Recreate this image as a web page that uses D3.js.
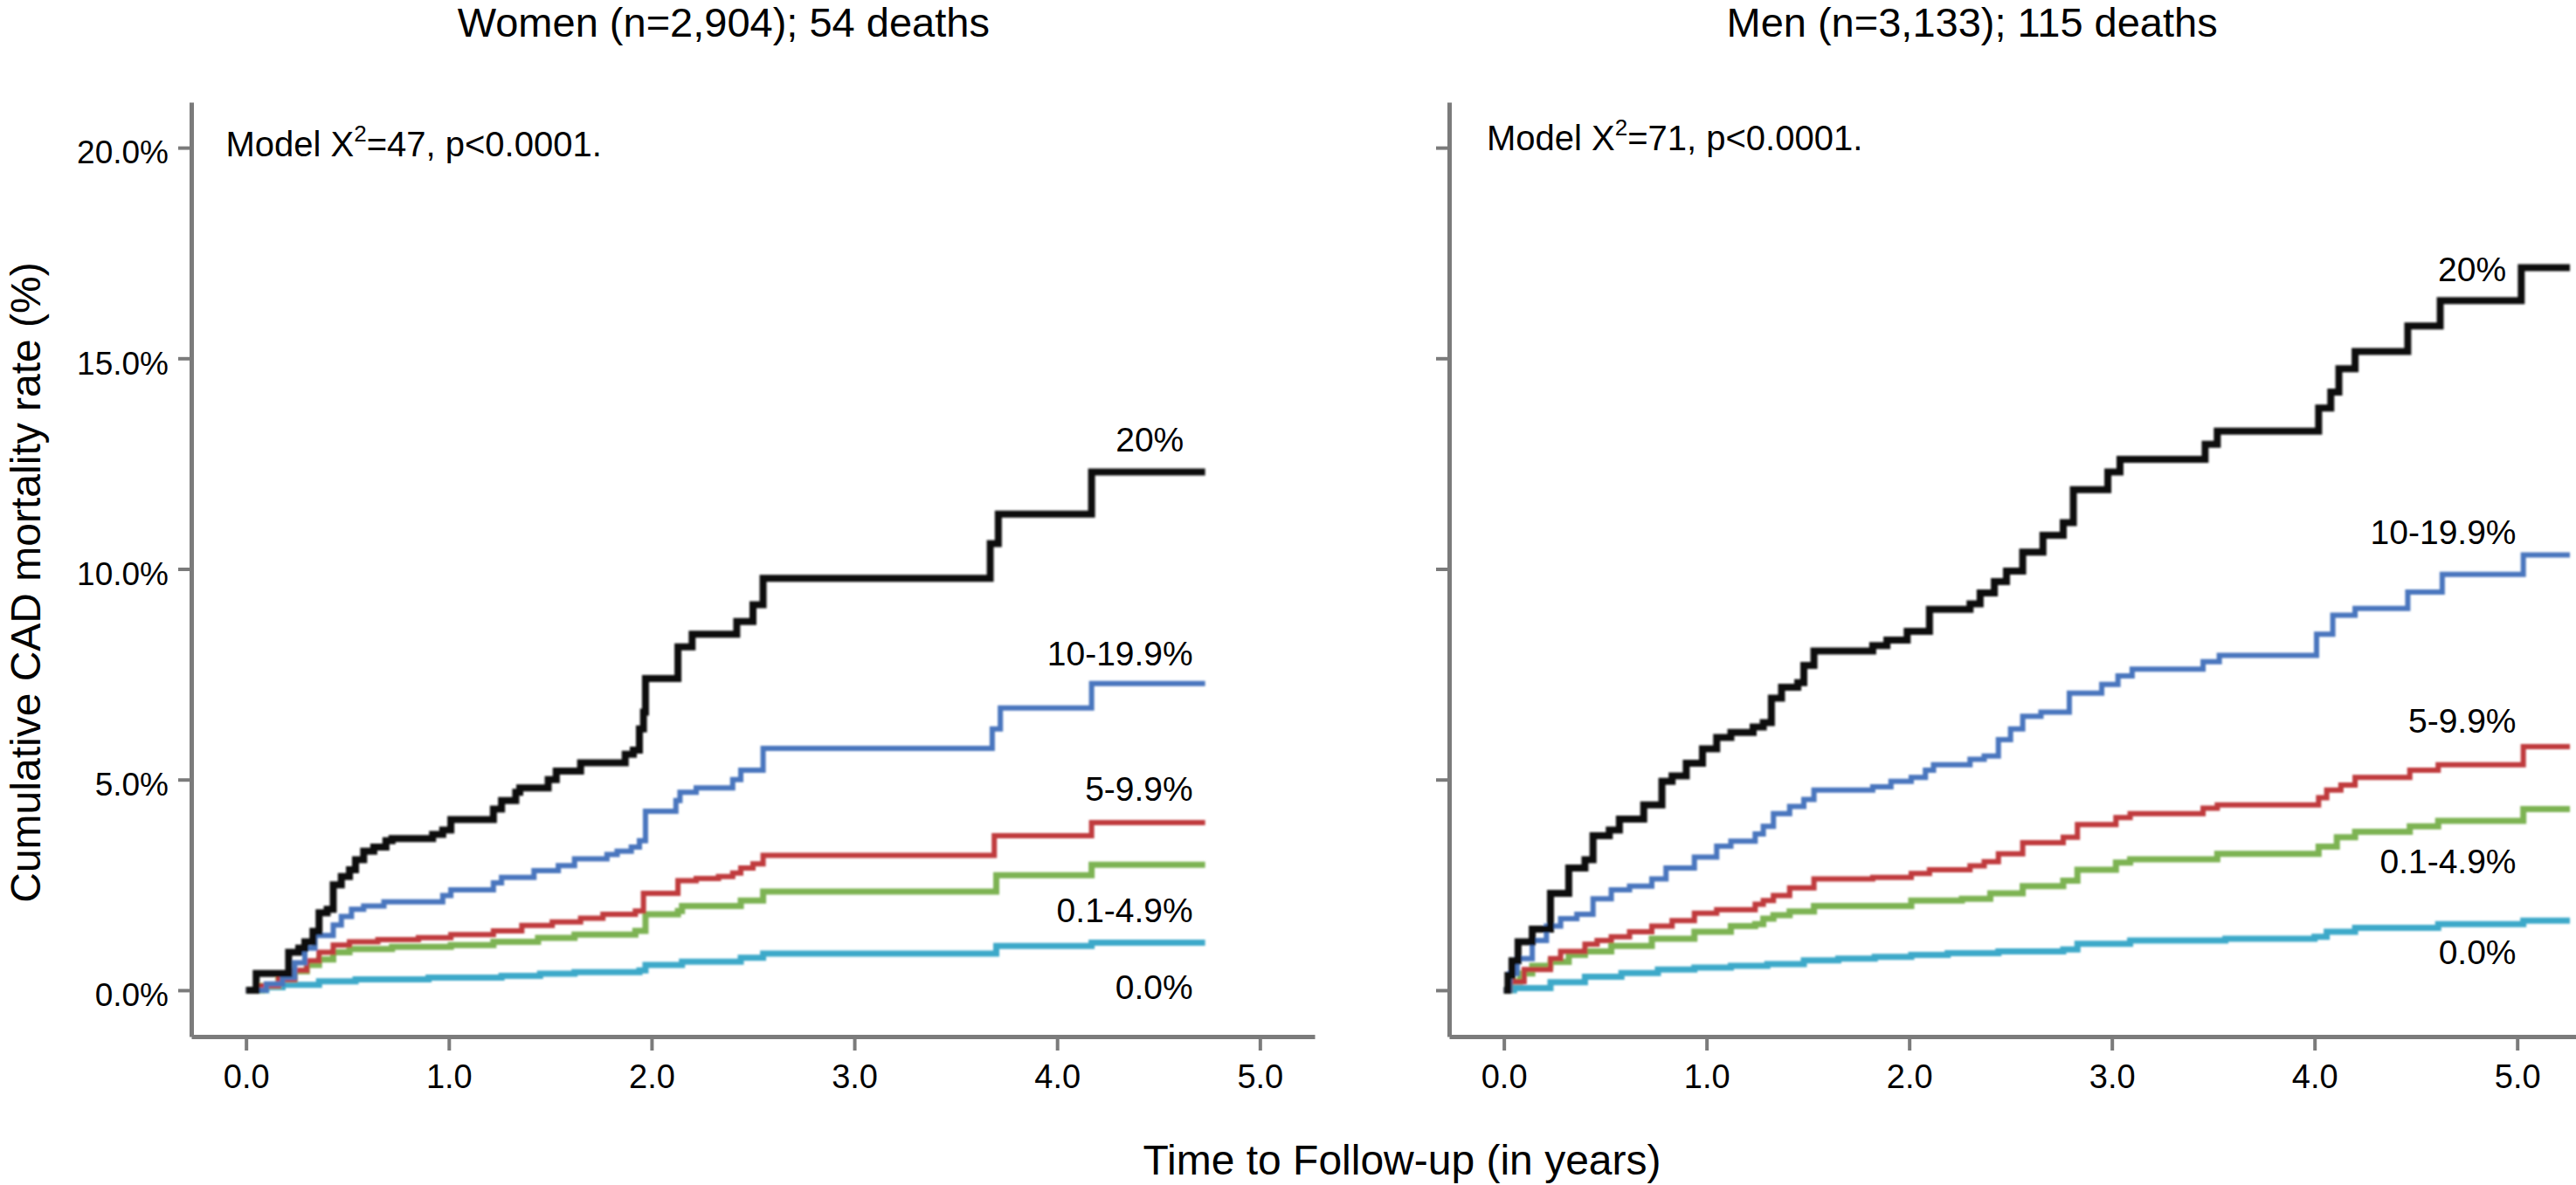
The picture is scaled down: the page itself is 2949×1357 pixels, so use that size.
<!DOCTYPE html>
<html>
<head>
<meta charset="utf-8">
<script src="https://cdn.jsdelivr.net/npm/d3@7"></script>
<style>
  body, html {
    margin: 0;
    padding: 0;
    background: #fff;
  }
  svg {
    display: block;
    font-family: "Liberation Sans", Arial, Helvetica, sans-serif;
  }
  .axis path, .axis line { stroke: #7b7b7b; }
  .axis path { stroke-width: 5; }
  .axis line { stroke-width: 4; }
  .axis text { fill: #000; }
</style>
</head>
<body>
<svg></svg>
<script>

  var groups = ['20%', '10-19.9%', '5-9.9%', '0.1-4.9%', '0.0%'];
  var colors = ['#111111', '#4a76be', '#c03a3d', '#7db353', '#3ea9c9'];
  var widths = [8, 6, 6, 7, 7];
  var xTicks = [0, 1, 2, 3, 4, 5];
  var yTicks = [0, 5, 10, 15, 20];

  // women: [years, cumulative CAD mortality %]
  var women20 = [[0,0],[0.05,0.4],[0.21,0.9],[0.26,1.0],[0.29,1.15],[0.33,1.4],[0.36,1.84],[0.40,1.92],
    [0.43,2.5],[0.47,2.7],[0.51,2.86],[0.54,3.1],[0.58,3.3],[0.63,3.4],[0.69,3.55],[0.72,3.6],[0.92,3.7],
    [0.97,3.8],[1.01,4.05],[1.22,4.3],[1.26,4.5],[1.33,4.7],[1.35,4.8],[1.49,5.0],[1.53,5.2],[1.65,5.4],
    [1.87,5.6],[1.91,5.7],[1.94,6.2],[1.96,6.6],[1.97,7.4],[2.13,8.15],[2.2,8.45],[2.42,8.75],[2.5,9.15],
    [2.55,9.78],[3.67,10.6],[3.71,11.3],[4.17,12.3],[4.73,12.3]];
  var women10 = [[0,0],[0.1,0.15],[0.18,0.3],[0.24,0.65],[0.29,1.0],[0.34,1.3],[0.43,1.55],[0.47,1.75],
    [0.52,1.92],[0.58,2.0],[0.68,2.1],[0.97,2.25],[1.01,2.38],[1.22,2.55],[1.26,2.68],[1.42,2.84],[1.54,2.96],
    [1.62,3.12],[1.78,3.22],[1.83,3.3],[1.9,3.4],[1.94,3.55],[1.97,4.25],[2.12,4.5],[2.14,4.7],[2.22,4.8],
    [2.4,5.0],[2.44,5.22],[2.55,5.74],[3.68,6.2],[3.72,6.7],[4.17,7.28],[4.73,7.28]];
  var women5 = [[0,0],[0.08,0.1],[0.16,0.25],[0.24,0.47],[0.3,0.7],[0.36,0.9],[0.43,1.07],[0.51,1.15],
    [0.65,1.2],[0.85,1.25],[1.01,1.32],[1.22,1.41],[1.36,1.54],[1.51,1.62],[1.65,1.71],[1.76,1.8],[1.92,1.88],
    [1.96,2.3],[2.13,2.6],[2.22,2.65],[2.33,2.7],[2.40,2.78],[2.44,2.9],[2.5,3.0],[2.55,3.2],[3.69,3.67],
    [4.17,3.98],[4.73,3.98]];
  var women01 = [[0,0],[0.08,0.1],[0.16,0.25],[0.24,0.45],[0.3,0.6],[0.36,0.73],[0.43,0.9],[0.51,0.98],
    [0.72,1.03],[1.01,1.07],[1.22,1.15],[1.44,1.24],[1.62,1.32],[1.92,1.41],[1.97,1.8],[2.13,1.88],[2.15,2.0],
    [2.44,2.13],[2.55,2.34],[3.7,2.73],[4.17,2.98],[4.73,2.98]];
  var women0 = [[0,0],[0.1,0.07],[0.18,0.13],[0.36,0.21],[0.54,0.26],[0.9,0.3],[1.26,0.34],[1.45,0.39],
    [1.62,0.43],[1.94,0.47],[1.97,0.6],[2.15,0.68],[2.44,0.77],[2.55,0.87],[3.7,1.05],[4.17,1.13],[4.73,1.13]];

  // men
  var men20 = [[0,0],[0.02,0.35],[0.04,0.7],[0.07,1.15],[0.14,1.45],[0.23,2.3],[0.32,2.9],[0.40,3.1],
    [0.44,3.67],[0.52,3.8],[0.57,4.06],[0.69,4.4],[0.78,4.96],[0.83,5.09],[0.90,5.39],[0.98,5.73],[1.05,6.0],
    [1.12,6.12],[1.23,6.25],[1.28,6.35],[1.32,6.93],[1.37,7.19],[1.45,7.3],[1.48,7.71],[1.53,8.05],[1.82,8.18],
    [1.89,8.31],[1.99,8.52],[2.10,9.04],[2.30,9.17],[2.35,9.43],[2.42,9.7],[2.48,9.95],[2.56,10.4],[2.66,10.8],
    [2.76,11.1],[2.81,11.88],[2.98,12.3],[3.04,12.6],[3.46,12.96],[3.52,13.27],[4.02,13.82],[4.08,14.2],
    [4.12,14.75],[4.2,15.16],[4.46,15.77],[4.62,16.37],[5.02,17.15],[5.26,17.15]];
  var men10 = [[0,0],[0.03,0.4],[0.065,0.75],[0.14,1.18],[0.21,1.52],[0.28,1.7],[0.36,1.8],[0.44,2.17],
    [0.53,2.38],[0.62,2.47],[0.73,2.64],[0.80,2.9],[0.94,3.16],[1.05,3.42],[1.12,3.54],[1.24,3.71],[1.28,3.89],
    [1.33,4.19],[1.41,4.36],[1.48,4.53],[1.53,4.75],[1.82,4.83],[1.91,4.96],[2.01,5.05],[2.08,5.22],[2.12,5.35],
    [2.30,5.48],[2.37,5.56],[2.44,5.95],[2.5,6.2],[2.56,6.5],[2.65,6.6],[2.79,7.05],[2.95,7.26],[3.03,7.46],
    [3.10,7.62],[3.45,7.8],[3.53,7.95],[4.01,8.45],[4.09,8.9],[4.20,9.06],[4.46,9.45],[4.63,9.87],[5.03,10.33],
    [5.26,10.33]];
  var men5 = [[0,0],[0.03,0.2],[0.1,0.49],[0.23,0.75],[0.28,0.92],[0.40,1.09],[0.46,1.18],[0.53,1.27],
    [0.62,1.39],[0.73,1.52],[0.83,1.65],[0.94,1.83],[1.05,1.91],[1.24,2.04],[1.28,2.13],[1.33,2.25],[1.41,2.43],
    [1.53,2.64],[1.82,2.68],[2.01,2.77],[2.10,2.86],[2.30,2.95],[2.37,3.05],[2.44,3.24],[2.56,3.5],[2.76,3.63],
    [2.83,3.93],[3.02,4.1],[3.09,4.19],[3.45,4.32],[3.52,4.4],[4.02,4.57],[4.06,4.75],[4.13,4.87],[4.2,5.05],
    [4.47,5.22],[4.61,5.35],[5.03,5.78],[5.26,5.78]];
  var men01 = [[0,0],[0.03,0.2],[0.08,0.4],[0.14,0.58],[0.23,0.67],[0.32,0.84],[0.40,0.92],[0.53,1.05],
    [0.73,1.22],[0.94,1.39],[1.12,1.52],[1.24,1.57],[1.28,1.7],[1.33,1.78],[1.41,1.87],[1.53,2.0],[2.01,2.13],
    [2.26,2.17],[2.40,2.3],[2.56,2.47],[2.76,2.6],[2.83,2.86],[3.02,3.03],[3.09,3.11],[3.52,3.24],[4.02,3.41],
    [4.11,3.63],[4.2,3.76],[4.47,3.89],[4.61,4.02],[5.03,4.3],[5.26,4.3]];
  var men0 = [[0,0],[0.05,0.05],[0.23,0.19],[0.40,0.32],[0.58,0.41],[0.76,0.49],[0.94,0.54],[1.12,0.58],
    [1.30,0.62],[1.48,0.71],[1.65,0.75],[1.83,0.79],[2.01,0.84],[2.19,0.88],[2.44,0.92],[2.76,0.97],[2.83,1.1],
    [3.09,1.18],[3.56,1.22],[4.0,1.27],[4.06,1.39],[4.2,1.48],[4.61,1.57],[5.03,1.65],[5.26,1.65]];

  var width = 2949, height = 1357;
  var plotTop = 117, plotBottom = 1187;

  // label anchors are in data units (years, %)
  var panels = [
    { title: 'Women (n=2,904); 54 deaths', chi: '47', left: 219, right: 1505, xMax: 5.27,
      series: [women20, women10, women5, women01, women0],
      labelAt: [[4.625, 12.79], [4.67, 7.71], [4.67, 4.5], [4.67, 1.62], [4.67, -0.2]],
      titleAt: 2.355, modelAt: [-0.1, 19.79], yLabels: true },
    { title: 'Men (n=3,133); 115 deaths', chi: '71', left: 1659, right: 2949, xMax: 5.29,
      series: [men20, men10, men5, men01, men0],
      labelAt: [[4.946, 16.83], [4.995, 10.6], [4.995, 6.12], [4.995, 2.77], [4.995, 0.62]],
      titleAt: 2.31, modelAt: [-0.085, 19.94], yLabels: false }
  ];

  var svg = d3.select('svg').attr('width', width).attr('height', height);

  svg.append('defs').append('filter').attr('id', 'soft')
    .append('feGaussianBlur').attr('stdDeviation', 0.9);

  var y = d3.scaleLinear().domain([-1.1, 21.08]).range([plotBottom, plotTop]);

  panels.forEach(function (p) {
    var x = d3.scaleLinear().domain([-0.27, p.xMax]).range([p.left, p.right]);
    var g = svg.append('g');

    g.append('g').attr('class', 'axis')
      .attr('transform', 'translate(0,' + plotBottom + ')')
      .call(d3.axisBottom(x).tickValues(xTicks).tickFormat(d3.format('.1f'))
        .tickSize(16).tickSizeOuter(0).tickPadding(16))
      .attr('font-size', 38).attr('font-family', null);

    var yAxis = g.append('g').attr('class', 'axis')
      .attr('transform', 'translate(' + p.left + ',0)')
      .call(d3.axisLeft(y).tickValues(yTicks)
        .tickFormat(p.yLabels ? function (d) { return d.toFixed(1) + '%'; } : '')
        .tickSize(15).tickSizeOuter(0).tickPadding(11))
      .attr('font-size', 37).attr('font-family', null);
    yAxis.selectAll('text').attr('dy', '0.48em');

    var line = d3.line()
      .x(function (d) { return x(d[0]); })
      .y(function (d) { return y(d[1]); })
      .curve(d3.curveStepAfter);

    var lines = g.append('g').attr('filter', 'url(#soft)');
    for (var i = p.series.length - 1; i >= 0; i--) {
      lines.append('path')
        .datum(p.series[i])
        .attr('d', line)
        .attr('fill', 'none')
        .attr('stroke', colors[i])
        .attr('stroke-width', widths[i]);
    }

    g.selectAll('.grp')
      .data(groups)
      .enter().append('text')
      .attr('class', 'grp')
      .attr('x', function (d, i) { return x(p.labelAt[i][0]); })
      .attr('y', function (d, i) { return y(p.labelAt[i][1]); })
      .attr('text-anchor', 'end')
      .attr('font-size', 39)
      .text(function (d) { return d; });

    var m = g.append('text')
      .attr('x', x(p.modelAt[0]))
      .attr('y', y(p.modelAt[1]))
      .attr('font-size', 40);
    m.append('tspan').text('Model X');
    m.append('tspan').attr('font-size', 26).attr('dy', -17).text('2');
    m.append('tspan').attr('dy', 17).text('=' + p.chi + ', p<0.0001.');

    g.append('text')
      .attr('x', x(p.titleAt))
      .attr('y', 42)
      .attr('text-anchor', 'middle')
      .attr('font-size', 47)
      .text(p.title);
  });

  svg.append('text')
    .attr('x', 1605)
    .attr('y', 1345)
    .attr('text-anchor', 'middle')
    .attr('font-size', 48)
    .text('Time to Follow-up (in years)');

  svg.append('text')
    .attr('transform', 'translate(46,667) rotate(-90)')
    .attr('text-anchor', 'middle')
    .attr('font-size', 48)
    .text('Cumulative CAD mortality rate (%)');

</script>
</body>
</html>
